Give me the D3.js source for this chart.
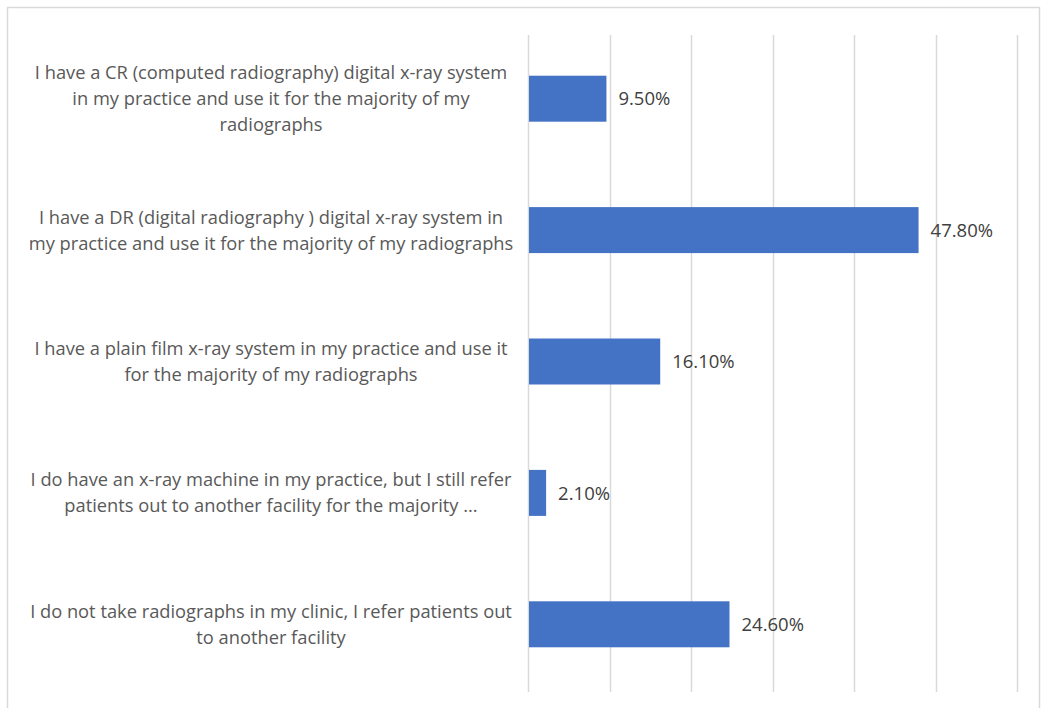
<!DOCTYPE html>
<html><head><meta charset="utf-8">
<script src="https://cdn.jsdelivr.net/npm/d3@7"></script>
<style>body{margin:0;background:#fff;}svg{display:block;}</style>
</head><body>
<svg id="c" width="1045" height="708"></svg>
<script>
const categories = [
  "I have a CR (computed radiography) digital x-ray system|in my practice and use it for the majority of my|radiographs",
  "I have a DR (digital radiography ) digital x-ray system in|my practice and use it for the majority of my radiographs",
  "I have a plain film x-ray system in my practice and use it|for the majority of my radiographs",
  "I do have an x-ray machine in my practice, but I still refer|patients out to another facility for the majority ...",
  "I do not take radiographs in my clinic, I refer patients out|to another facility"
];
const values = [9.5, 47.8, 16.1, 2.1, 24.6];
const valueLabels = ["9.50%", "47.80%", "16.10%", "2.10%", "24.60%"];
const gridTicks = [0, 10, 20, 30, 40, 50, 60];

const svg = d3.select("#c");
const font = "'Open Sans', sans-serif";
svg.append("rect").attr("x", 7.5).attr("y", 7.5).attr("width", 1032).attr("height", 720)
  .attr("fill", "#fff").attr("stroke", "#d9d9d9").attr("stroke-width", 1.5);

const x = d3.scaleLinear().domain([0, 60]).range([528, 1017]);
const y = d3.scaleBand().domain(d3.range(categories.length)).range([33, 690]).paddingInner(0.65).paddingOuter(0.325);

svg.append("g").selectAll("line").data(gridTicks).join("line")
  .attr("x1", d => Math.round(x(d)) + 0.5).attr("x2", d => Math.round(x(d)) + 0.5)
  .attr("y1", 35).attr("y2", 692)
  .attr("stroke", "#d9d9d9").attr("stroke-width", 1.5);

svg.append("g").selectAll("rect").data(values).join("rect")
  .attr("x", x(0) + 1).attr("y", (d, i) => y(i))
  .attr("width", d => x(d) - x(0)).attr("height", y.bandwidth())
  .attr("fill", "#4472c4");

svg.append("g").selectAll("text").data(values).join("text")
  .attr("x", d => x(d) + 13).attr("y", (d, i) => y(i) + y.bandwidth() / 2)
  .attr("dy", "0.36em").attr("font-family", font).attr("font-size", 18.5)
  .attr("fill", "#404040").text((d, i) => valueLabels[i]);

const lab = svg.append("g");
categories.forEach((c, i) => {
  const lines = c.split("|");
  const cy = y(i) + y.bandwidth() / 2;
  const lh = 26;
  lines.forEach((ln, j) => {
    lab.append("text")
      .attr("x", 271).attr("y", cy + (j - (lines.length - 1) / 2) * lh)
      .attr("dy", "0.36em").attr("text-anchor", "middle")
      .attr("font-family", font).attr("font-size", 18.3).attr("fill", "#595959")
      .text(ln);
  });
});
</script>
</body></html>
